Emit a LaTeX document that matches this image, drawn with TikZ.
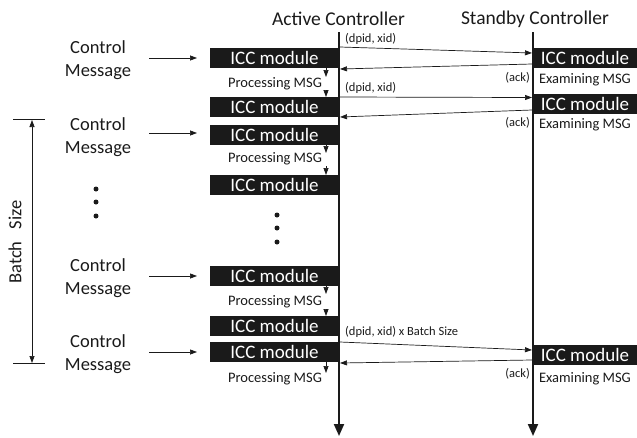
\documentclass[tikz,border=0pt]{standalone}
\usepackage{fontspec}
\setmainfont{Carlito}
\usetikzlibrary{arrows.meta}
\definecolor{ink}{HTML}{1A1A1A}
\tikzset{
  icc/.style={fill=ink, text=white, inner sep=0pt, minimum height=20pt,
    font=\fontsize{19}{22}\selectfont},
  iccA/.style={icc, minimum width=129pt},
  iccS/.style={icc, minimum width=104pt},
  ctl/.style={align=center, text=ink, font=\fontsize{18.5}{23}\selectfont},
  ttl/.style={text=ink, font=\fontsize{19.5}{22}\selectfont},
  proc/.style={text=ink, font=\fontsize{14.5}{16}\selectfont, inner sep=0pt},
  lbl/.style={text=ink, font=\fontsize{12.5}{14}\selectfont, inner sep=0pt},
  life/.style={line width=2pt, draw=ink, -{Triangle[length=12pt,width=10pt]}},
  msg/.style={line width=0.7pt, draw=ink, -{Triangle[length=7pt,width=5pt]}},
  sm/.style={line width=0.7pt, draw=ink, -{Triangle[length=7pt,width=5pt]}},
  dot/.style={circle, fill=ink, inner sep=0pt, minimum size=5pt},
}
\begin{document}
\begin{tikzpicture}[x=1pt,y=-1pt]
\useasboundingbox (0,0) rectangle (637,437);
% titles
\node[ttl] (ta) at (338.5,19) {Active Controller};
\node[ttl] (ts) at (535,19) {Standby Controller};
% lifelines
\coordinate (la0) at (339,32);
\coordinate (la1) at (339,436);
\coordinate (ls0) at (533,32);
\coordinate (ls1) at (533,436);
% active boxes
\node[iccA] (a1) at (274.5,57.5) {ICC module};
\node[iccA] (a2) at (274.5,107) {ICC module};
\node[iccA] (a3) at (274.5,134.5) {ICC module};
\node[iccA] (a4) at (274.5,185) {ICC module};
\node[iccA] (a5) at (274.5,275.5) {ICC module};
\node[iccA] (a6) at (274.5,326) {ICC module};
\node[iccA] (a7) at (274.5,352) {ICC module};
% standby boxes
\node[iccS] (s1) at (585,57.5) {ICC module};
\node[iccS] (s2) at (585,103.5) {ICC module};
\node[iccS] (s3) at (585,354.5) {ICC module};
\draw[life] (la0) -- (la1);
\draw[life] (ls0) -- (ls1);
% examining / ack
\node[proc] (e1) at (585,80) {Examining MSG};
\node[proc] (e2) at (585,125) {Examining MSG};
\node[proc] (e3) at (585,379) {Examining MSG};
\node[lbl, anchor=east] (k1) at (530,78) {(ack)};
\node[lbl, anchor=east] (k2) at (530,123) {(ack)};
\node[lbl, anchor=east] (k3) at (530,374) {(ack)};
% processing
\node[proc] (p1) at (275,84) {Processing MSG};
\node[proc] (p2) at (275,159) {Processing MSG};
\node[proc] (p3) at (275,302) {Processing MSG};
\node[proc] (p4) at (275,379) {Processing MSG};
% small down arrows
\coordinate (d1a) at (326,67.5);  \coordinate (d1b) at (326,77);
\coordinate (d2a) at (326,90);    \coordinate (d2b) at (326,97);
\coordinate (d3a) at (326,144.5); \coordinate (d3b) at (326,153);
\coordinate (d4a) at (326,166);   \coordinate (d4b) at (326,175);
\coordinate (d5a) at (326,285.5); \coordinate (d5b) at (326,294);
\coordinate (d6a) at (326,309);   \coordinate (d6b) at (326,316);
\coordinate (d7a) at (326,362);   \coordinate (d7b) at (326,373);
\draw[sm] (d1a) -- (d1b);
\draw[sm] (d2a) -- (d2b);
\draw[sm] (d3a) -- (d3b);
\draw[sm] (d4a) -- (d4b);
\draw[sm] (d5a) -- (d5b);
\draw[sm] (d6a) -- (d6b);
\draw[sm] (d7a) -- (d7b);
% messages
\coordinate (m1a) at (340,47);  \coordinate (m1b) at (532,53);
\coordinate (r1a) at (532,64);  \coordinate (r1b) at (340,69);
\coordinate (m2a) at (340,97);  \coordinate (m2b) at (532,97.5);
\coordinate (r2a) at (532,110); \coordinate (r2b) at (340,117);
\coordinate (m3a) at (340,342); \coordinate (m3b) at (532,350);
\coordinate (r3a) at (532,360); \coordinate (r3b) at (340,363);
\draw[msg] (m1a) -- (m1b);
\draw[msg] (r1a) -- (r1b);
\draw[msg] (m2a) -- (m2b);
\draw[msg] (r2a) -- (r2b);
\draw[msg] (m3a) -- (m3b);
\draw[msg] (r3a) -- (r3b);
\node[lbl, anchor=west] (l1) at (345,39) {(dpid, xid)};
\node[lbl, anchor=west] (l2) at (345,88) {(dpid, xid)};
\node[lbl, anchor=west] (l3) at (345,332) {(dpid, xid) x Batch Size};
% control messages
\node[ctl] (c1) at (98,60.5) {Control\\Message};
\node[ctl] (c2) at (98,137) {Control\\Message};
\node[ctl] (c3) at (98,278) {Control\\Message};
\node[ctl] (c4) at (98,354) {Control\\Message};
\coordinate (c1e) at (149,58);  \coordinate (c1f) at (197,58);
\coordinate (c2e) at (149,133); \coordinate (c2f) at (197,133);
\coordinate (c3e) at (149,276); \coordinate (c3f) at (197,276);
\coordinate (c4e) at (149,352); \coordinate (c4f) at (197,352);
\draw[msg] (c1e) -- (c1f);
\draw[msg] (c2e) -- (c2f);
\draw[msg] (c3e) -- (c3f);
\draw[msg] (c4e) -- (c4f);
% dots
\node[dot] (ld1) at (96,189) {};
\node[dot] (ld2) at (96,202) {};
\node[dot] (ld3) at (96,216) {};
\node[dot] (md1) at (277,215) {};
\node[dot] (md2) at (277,228) {};
\node[dot] (md3) at (277,242) {};
% batch size
\coordinate (bt0) at (13,119.5); \coordinate (bt1) at (45,119.5);
\coordinate (bb0) at (13,363.5); \coordinate (bb1) at (45,363.5);
\coordinate (bu) at (32,120); \coordinate (bd) at (32,363);
\draw[line width=0.7pt, draw=ink] (bt0) -- (bt1);
\draw[line width=0.7pt, draw=ink] (bb0) -- (bb1);
\draw[line width=0.7pt, draw=ink, {Triangle[length=7pt,width=5pt]}-{Triangle[length=7pt,width=5pt]}] (bu) -- (bd);
\node[ctl, rotate=90] (bs) at (15,242) {Batch\hspace{12pt}Size};
\end{tikzpicture}
\end{document}
